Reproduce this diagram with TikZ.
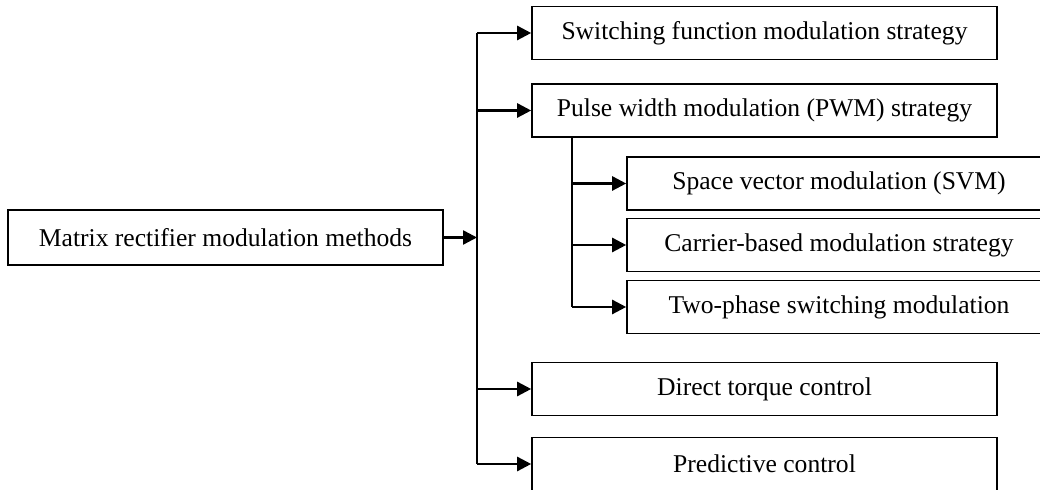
\documentclass[tikz,border=0pt]{standalone}
\usepackage{fontspec}
\setmainfont{Liberation Serif}
\usetikzlibrary{arrows.meta}

\tikzset{
	box/.style={draw,line width=0.8pt,inner sep=0pt,font=\fontsize{12.8}{15}\selectfont},
	mainbox/.style={box,minimum width=217.5pt,minimum height=27.5pt},
	bigbox/.style={box,minimum width=232.5pt,minimum height=26.5pt},
	subbox/.style={box,minimum width=212pt,minimum height=26.5pt},
	trunk/.style={line width=0.9pt},
	arr/.style={line width=1.25pt,-{Triangle[length=7pt,width=7pt]}}
}

\begin{document}
\begin{tikzpicture}[x=0.5pt,y=-0.5pt]
	\clip (0,0) rectangle (1040,490);
	\node[mainbox] (M) at (225.5,237.5) {Matrix rectifier modulation methods};
	\node[bigbox] (S1) at (764.5,33) {Switching function modulation strategy};
	\node[bigbox] (S2) at (764.5,110.5) {Pulse width modulation (PWM) strategy};
	\node[subbox] (P1) at (839,183.5) {Space vector modulation (SVM)};
	\node[subbox] (P2) at (839,245) {Carrier-based modulation strategy};
	\node[subbox] (P3) at (839,307) {Two-phase switching modulation};
	\node[bigbox] (S3) at (764.5,389) {Direct torque control};
	\node[bigbox] (S4) at (764.5,464) {Predictive control};
	\coordinate (T) at (477,237.5);
	\coordinate (T') at (572,0);
	%
	\draw[trunk] (T |- S1) -- (T |- S4);
	\draw[trunk] (S2.south -| T') -- (T' |- P3);
	\path[arr]
	(M) edge (T)
	(T |- S1) edge (S1)
	(T |- S2) edge (S2)
	(T |- S3) edge (S3)
	(T |- S4) edge (S4)
	(T' |- P1) edge (P1)
	(T' |- P2) edge (P2)
	(T' |- P3) edge (P3);
\end{tikzpicture}
\end{document}
